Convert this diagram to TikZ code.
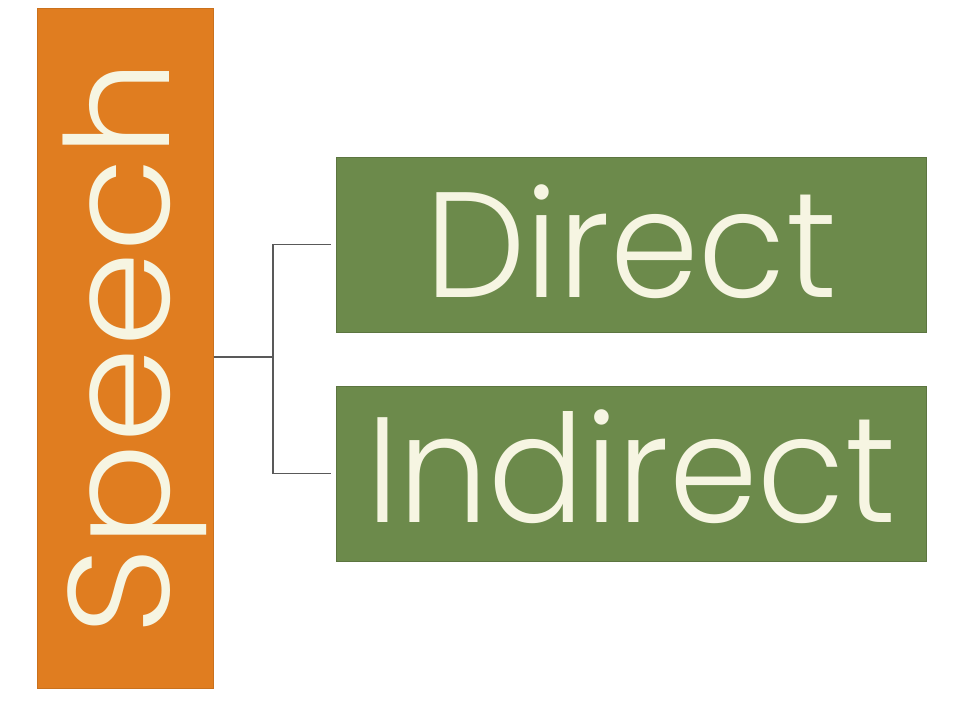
\documentclass[tikz,border=0pt]{standalone}
\usepackage{fontspec}
\setmainfont{Poppins Light}
\usetikzlibrary{positioning}
\definecolor{speechorange}{HTML}{E07D20}
\definecolor{branchgreen}{HTML}{6C8A4B}
\definecolor{labelcream}{HTML}{F6F5E2}

\begin{document}
\begin{tikzpicture}[%
    speechbox/.style={draw=speechorange!90!black, line width=0.5pt, fill=speechorange,
        minimum width=88pt, minimum height=340pt, inner sep=0pt,
        text=labelcream, font=\fontsize{72}{72}\selectfont},
    branch/.style={draw=branchgreen!85!black, line width=0.5pt, fill=branchgreen,
        minimum width=295pt, minimum height=87.5pt, inner sep=0pt,
        text=labelcream, font=\fontsize{75}{75}\selectfont},
    link/.style={draw=black!65, line width=0.8pt}]
    \useasboundingbox[fill=white] (0,0) rectangle (480pt,-360pt);

    \node[speechbox] (speech) at (62.5pt,-174pt)
        {\rotatebox{90}{\raisebox{-5pt}[\height][\depth]{\scalebox{1.07}[1]{Speech}}}};
    \node[branch, below right=74.5pt and 61pt of speech.north east] (direct)
        {\raisebox{1.5pt}[\height][\depth]{\scalebox{0.95}[1]{Direct}}};
    \node[branch, below=26.5pt of direct] (indirect)
        {\raisebox{3.5pt}[\height][\depth]{\scalebox{0.95}[1]{Indirect}}};

    \coordinate (fork) at (136.5pt,-178.5pt);

    \draw[link] (speech.east |- fork) -- (fork);
    \draw[link] ([xshift=-2.5pt]direct.west) -| (fork) |- ([xshift=-2.5pt]indirect.west);
\end{tikzpicture}
\end{document}
